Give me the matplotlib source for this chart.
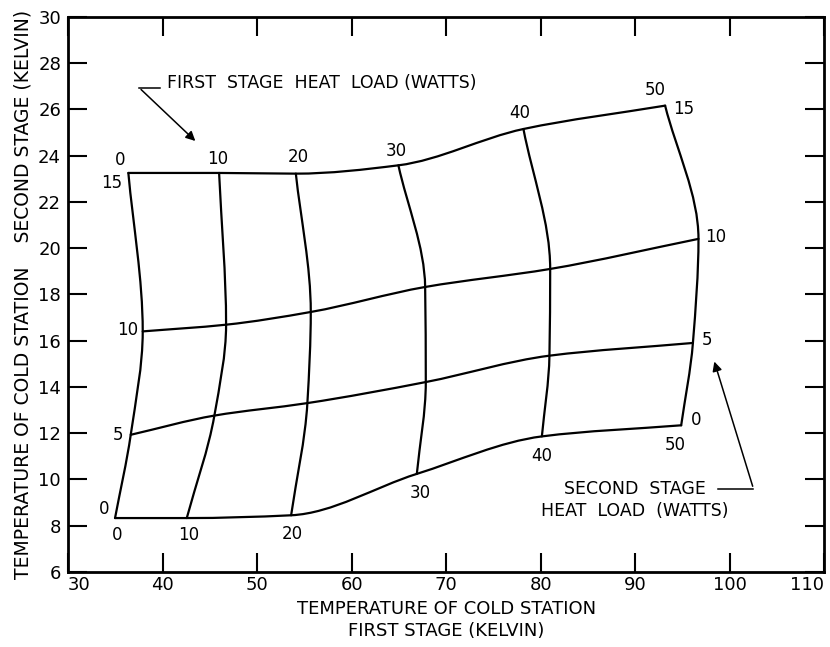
import numpy as np
import matplotlib
matplotlib.use('Agg')
import matplotlib.pyplot as plt
from matplotlib.path import Path
from matplotlib.patches import PathPatch

plt.rcParams['font.family'] = ['DejaVu Sans']

# first stage heat load (W) -> columns, second stage heat load (W) -> rows
q1_loads = [0, 10, 20, 30, 40, 50]
q2_loads = [15, 10, 5, 0]

# node temperatures: first stage T (x), second stage T (y)
t1_q2_15 = [36.38, 45.98, 54.10, 64.95, 78.18, 93.17]
t2_q2_15 = [23.25, 23.25, 23.22, 23.58, 25.15, 26.16]
t1_q2_10 = [37.90, 46.72, 55.68, 67.78, 81.01, 96.70]
t2_q2_10 = [16.40, 16.69, 17.24, 18.32, 19.10, 20.40]
t1_q2_5 = [36.63, 45.48, 55.32, 67.85, 80.93, 96.11]
t2_q2_5 = [11.93, 12.76, 13.30, 14.21, 15.35, 15.90]
t1_q2_0 = [34.97, 42.56, 53.60, 66.90, 80.13, 94.87]
t2_q2_0 = [8.33, 8.33, 8.45, 10.24, 11.86, 12.34]

# label positions
top_lab_x = [35.50, 45.84, 54.37, 64.71, 77.76, 92.15]
top_lab_y = [23.79, 23.87, 23.94, 24.18, 25.84, 26.82]
bot_lab_x = [35.15, 42.73, 53.74, 67.25, 80.13, 94.23]
bot_lab_y = [7.61, 7.61, 7.65, 9.41, 11.03, 11.50]
left_lab_x = [34.62, 36.32, 35.32, 33.84]
left_lab_y = [22.82, 16.47, 11.93, 8.72]
right_lab_x = [95.11, 98.54, 97.59, 96.46]
right_lab_y = [26.02, 20.48, 16.04, 12.55]

T1 = np.array([t1_q2_15, t1_q2_10, t1_q2_5, t1_q2_0])
T2 = np.array([t2_q2_15, t2_q2_10, t2_q2_5, t2_q2_0])


def hermite_slopes(t, s):
    # shape preserving slopes (pchip style)
    h = np.diff(t)
    m = np.diff(s) / h
    d = np.zeros(len(t))
    d[0], d[-1] = m[0], m[-1]
    for i in range(1, len(t) - 1):
        if m[i - 1] * m[i] > 0:
            w1 = 2 * h[i] + h[i - 1]
            w2 = h[i] + 2 * h[i - 1]
            d[i] = (w1 + w2) / (w1 / m[i - 1] + w2 / m[i])
    return d


def smooth_path(t, s, vertical=False):
    t = np.asarray(t, float)
    s = np.asarray(s, float)
    d = hermite_slopes(t, s)
    pts = []
    codes = [Path.MOVETO]
    pts.append((t[0], s[0]))
    for i in range(len(t) - 1):
        h = t[i + 1] - t[i]
        pts += [(t[i] + h / 3, s[i] + d[i] * h / 3),
                (t[i + 1] - h / 3, s[i + 1] - d[i + 1] * h / 3),
                (t[i + 1], s[i + 1])]
        codes += [Path.CURVE4] * 3
    pts = np.array(pts)
    if vertical:
        pts = pts[:, ::-1]
    return Path(pts, codes)


fig = plt.figure(figsize=(8.30, 6.47), dpi=100)
ax = fig.add_axes([0.082, 0.116, 0.911, 0.858])

lw = 1.6
for r in range(len(q2_loads)):
    ax.add_patch(PathPatch(smooth_path(T1[r], T2[r]), fill=False, lw=lw, ec='black', capstyle='round'))
for c in range(len(q1_loads)):
    ax.add_patch(PathPatch(smooth_path(T2[::-1, c], T1[::-1, c], vertical=True),
                           fill=False, lw=lw, ec='black', capstyle='round'))

fs = 12
for q, x, y in zip(q1_loads, top_lab_x, top_lab_y):
    ax.text(x, y, str(q), fontsize=fs, ha='center', va='center')
for q, x, y in zip(q1_loads, bot_lab_x, bot_lab_y):
    ax.text(x, y, str(q), fontsize=fs, ha='center', va='center')
for q, x, y in zip(q2_loads, left_lab_x, left_lab_y):
    ax.text(x, y, str(q), fontsize=fs, ha='center', va='center')
for q, x, y in zip(q2_loads, right_lab_x, right_lab_y):
    ax.text(x, y, str(q), fontsize=fs, ha='center', va='center')

# leader notes
ax.text(40.44, 27.14, 'FIRST  STAGE  HEAT  LOAD (WATTS)', fontsize=12.5, ha='left', va='center')
ax.plot([39.74, 37.51], [26.94, 26.94], color='black', lw=1.1)
ax.annotate('', xy=(43.68, 24.55), xytext=(37.51, 26.94),
            arrowprops=dict(arrowstyle='-|>', color='black', lw=1.1, mutation_scale=14))

ax.text(90.0, 9.59, 'SECOND  STAGE', fontsize=12.5, ha='center', va='center')
ax.text(90.0, 8.62, 'HEAT  LOAD  (WATTS)', fontsize=12.5, ha='center', va='center')
ax.plot([98.81, 102.52], [9.59, 9.59], color='black', lw=1.1)
ax.annotate('', xy=(98.29, 15.21), xytext=(102.52, 9.59),
            arrowprops=dict(arrowstyle='-|>', color='black', lw=1.1, mutation_scale=14))

ax.set_xlim(30, 110)
ax.set_ylim(6, 30)
ax.set_xticks(range(30, 111, 10))
ax.set_yticks(range(6, 31, 2))
ax.tick_params(direction='in', length=14, width=1.5, labelsize=13,
               top=True, right=True)
ax.tick_params(axis='x', pad=3)
ax.tick_params(axis='y', pad=5)
xlabs = ax.get_xticklabels()
xlabs[0].set_horizontalalignment('left')
xlabs[-1].set_horizontalalignment('right')
for s in ax.spines.values():
    s.set_linewidth(2)

ax.set_xlabel('TEMPERATURE OF COLD STATION\nFIRST STAGE (KELVIN)', fontsize=13, linespacing=1.3)
ax.set_ylabel('TEMPERATURE OF COLD STATION    SECOND STAGE (KELVIN)', fontsize=13.5)

fig.savefig('out.png', dpi=100)
